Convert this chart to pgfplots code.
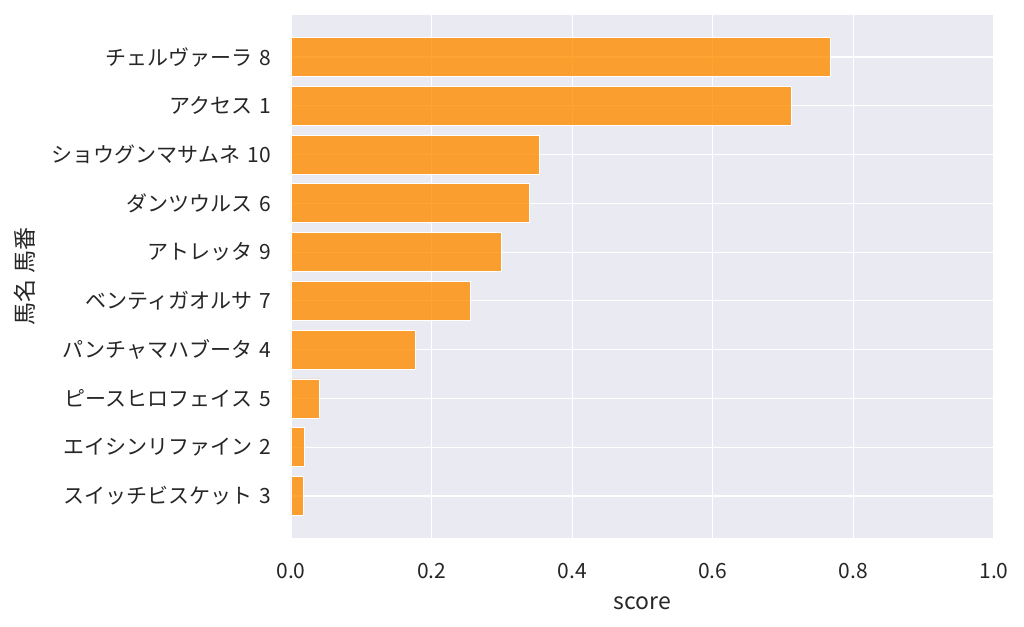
\documentclass[border=0pt]{standalone}
\usepackage{pgfplots}
\pgfplotsset{compat=1.18}
\usepackage{fontspec}
\setmainfont{Noto Sans CJK JP}
\definecolor{bgc}{RGB}{234,234,242}
\definecolor{txt}{RGB}{38,38,38}
\definecolor{dorange}{RGB}{255,140,0}
\begin{document}
\begin{tikzpicture}
\useasboundingbox (-291bp,-89bp) rectangle (733bp,538bp);
\begin{axis}[
  at={(0,0)}, anchor=south west,
  scale only axis,
  width=703bp, height=523bp,
  xmin=0, xmax=1,
  ymin=-0.86, ymax=9.86,
  y dir=reverse,
  axis background/.style={fill=bgc},
  axis line style={draw=none},
  major tick length=0pt,
  xmajorgrids, ymajorgrids,
  grid style={white, line width=1.2bp},
  xtick={0,0.2,0.4,0.6,0.8,1.0},
  xticklabel={\pgfmathprintnumber[fixed,fixed zerofill,precision=1]{\tick}},
  ytick={0,...,9},
  yticklabels={チェルヴァーラ\,\,8, アクセス\,\,1, ショウグンマサムネ\,\,10, ダンツウルス\,\,6, アトレッタ\,\,9, ベンティガオルサ\,\,7, パンチャマハブータ\,\,4, ピースヒロフェイス\,\,5, エイシンリファイン\,\,2, スイッチビスケット\,\,3},
  /pgf/number format/assume math mode=true,
  tick label style={font=\fontsize{21bp}{24bp}\selectfont, text=txt, inner sep=0pt},
  yticklabel style={anchor=east, xshift=-20bp},
  xticklabel style={anchor=base, yshift=-40bp},
  xlabel={score},
  ylabel={馬名 馬番},
  label style={font=\fontsize{23bp}{26bp}\selectfont, text=txt, inner sep=0pt},
  xlabel style={at={(axis description cs:0.5,0)}, anchor=base, yshift=-71bp},
  ylabel style={at={(axis description cs:0,0.5)}, anchor=center, yshift=266bp},
  xbar, bar width=0.8,
]
\addplot[fill=dorange, fill opacity=0.8, draw=white, line width=0.8bp] table {
x y
0.767 0
0.712 1
0.353 2
0.339 3
0.299 4
0.255 5
0.177 6
0.041 7
0.019 8
0.017 9
};
\end{axis}
\end{tikzpicture}
\end{document}
